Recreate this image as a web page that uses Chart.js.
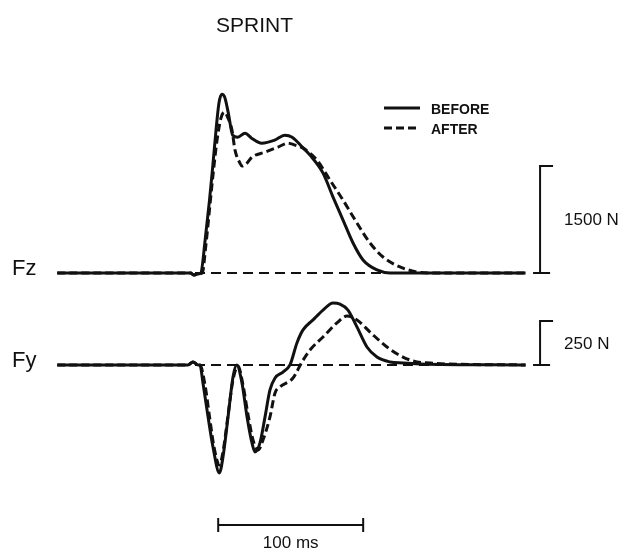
<!DOCTYPE html>
<html>
<head>
<meta charset="utf-8">
<title>Sprint</title>
<script src="https://cdn.jsdelivr.net/npm/chart.js@4"></script>
<style>
    html, body { margin: 0; padding: 0; background: #fff; }
    #wrap { width: 623px; height: 550px; position: relative; }
</style>
</head>
<body>
<div id="wrap"><canvas id="myChart"></canvas></div>
<script>
"use strict";

// time in ms (0 = foot contact), forces in N
const fzBeforeT = [-95, -3, -1, 2, 4, 7, 10, 12, 14.5, 16.5, 18.5, 20.5, 23, 26, 29.5, 34.5, 39, 46, 55, 62, 67, 74, 79.3, 88.3, 95.2, 102.1, 109, 115.9, 125.5, 134.5, 228];
const fzBeforeN = [0, 0, -28, -14, 0, 462, 1022, 1442, 2002, 2380, 2506, 2464, 2240, 1932, 1904, 1960, 1890, 1820, 1862, 1932, 1904, 1764, 1652, 1400, 1064, 742, 420, 182, 42, 0, 0];

const fzAfterT = [-95, -3, -1, 2, 5, 7.5, 10.3, 12.4, 15.2, 17.9, 20.2, 22.8, 25.5, 27.6, 31, 32.4, 35.2, 39.3, 48.3, 57.2, 64.1, 69, 74.5, 84.1, 93.1, 102.1, 111.7, 120.7, 129.7, 141.4, 153.1, 162.1, 228];
const fzAfterN = [0, 0, -28, -14, 0, 392, 952, 1372, 1862, 2170, 2254, 2170, 2002, 1722, 1540, 1498, 1526, 1624, 1694, 1764, 1820, 1792, 1750, 1582, 1302, 1022, 700, 420, 224, 84, 14, 0, 0];

const fyBeforeT = [-95, -4.8, -1.4, 2.1, 3.4, 5.5, 9, 12.4, 16.8, 19.3, 22.8, 26.2, 28.8, 32.4, 35.9, 39.3, 41.4, 44.8, 48.3, 51.7, 55.2, 60.7, 65.5, 70.3, 74.5, 81.4, 88.3, 95.2, 100, 105.5, 111.7, 118.6, 125.5, 134.5, 143.4, 155.2, 228];
const fyBeforeN = [0, 0, 17, 0, 0, -102, -295, -466, -613, -523, -295, -68, 0, -102, -295, -443, -494, -443, -295, -142, -74, -40, 0, 125, 199, 256, 312, 352, 346, 312, 216, 102, 45, 17, 11, 6, 0];

const fyAfterT = [-95, -4.8, -1.4, 2.1, 3.4, 6.9, 10.3, 13.1, 16.8, 19.3, 22.8, 26.2, 29.7, 33.1, 36.6, 40, 43.4, 46.9, 51.7, 55.2, 58.6, 67.6, 73.8, 79.3, 88.3, 97.9, 104.8, 111.7, 120.7, 132.4, 143.4, 153.1, 162.1, 172.4, 228];
const fyAfterN = [0, 0, 17, 0, 0, -114, -312, -466, -568, -494, -284, -85, -6, -114, -284, -426, -483, -426, -295, -159, -125, -74, 17, 85, 159, 239, 278, 256, 187, 102, 45, 17, 11, 6, 0];

const zeroT = [0, 228];
const zeroN = [0, 0];

const seriesNames = ['BEFORE', 'AFTER'];
const scaleBarsN = { fz: 1500, fy: 250 };
const timeBarMs = [16, 116];

function toPoints(t, v) {
    return t.map((x, i) => ({ x: x, y: v[i] }));
}

const font = '"Liberation Sans", Arial, sans-serif';

const trace = {
    borderColor: '#111',
    borderWidth: 3,
    pointRadius: 0,
    fill: false,
    cubicInterpolationMode: 'monotone'
};

const decorations = {
    id: 'decorations',
    afterDraw(chart) {
        const ctx = chart.ctx;
        const x = chart.scales.x;
        const yz = chart.scales.yz;
        const yy = chart.scales.yy;

        ctx.save();
        ctx.fillStyle = '#111';
        ctx.strokeStyle = '#111';
        ctx.textBaseline = 'alphabetic';

        // title and trace labels
        ctx.font = '21px ' + font;
        ctx.textAlign = 'left';
        ctx.fillText('SPRINT', 216, 32);
        ctx.font = '22px ' + font;
        ctx.fillText('Fz', 12, yz.getPixelForValue(0) + 2);
        ctx.fillText('Fy', 12, yy.getPixelForValue(0) + 2);

        // legend
        ctx.lineWidth = 3;
        ctx.beginPath();
        ctx.moveTo(384, 108);
        ctx.lineTo(420, 108);
        ctx.stroke();
        ctx.setLineDash([8, 4]);
        ctx.beginPath();
        ctx.moveTo(384, 128);
        ctx.lineTo(420, 128);
        ctx.stroke();
        ctx.setLineDash([]);
        ctx.font = 'bold 14px ' + font;
        ctx.fillText(seriesNames[0], 431, 114);
        ctx.fillText(seriesNames[1], 431, 134);

        // force scale bars
        ctx.lineWidth = 2;
        const bx = x.getPixelForValue(238);
        [[yz, scaleBarsN.fz], [yy, scaleBarsN.fy]].forEach(([scale, n]) => {
            const top = scale.getPixelForValue(n);
            const bot = scale.getPixelForValue(0);
            ctx.beginPath();
            ctx.moveTo(bx + 13, top);
            ctx.lineTo(bx, top);
            ctx.lineTo(bx, bot);
            ctx.moveTo(bx - 7, bot);
            ctx.lineTo(bx + 10, bot);
            ctx.stroke();
            ctx.font = '17px ' + font;
            ctx.textAlign = 'left';
            ctx.textBaseline = 'middle';
            ctx.fillText(n + ' N', bx + 24, (top + bot) / 2 + 1);
        });

        // time scale bar
        const x0 = x.getPixelForValue(timeBarMs[0]);
        const x1 = x.getPixelForValue(timeBarMs[1]);
        const ty = 525;
        ctx.beginPath();
        ctx.moveTo(x0, ty);
        ctx.lineTo(x1, ty);
        ctx.moveTo(x0, ty - 7);
        ctx.lineTo(x0, ty + 7);
        ctx.moveTo(x1, ty - 7);
        ctx.lineTo(x1, ty + 7);
        ctx.stroke();
        ctx.textAlign = 'center';
        ctx.textBaseline = 'alphabetic';
        ctx.font = '17px ' + font;
        ctx.fillText((timeBarMs[1] - timeBarMs[0]) + ' ms', (x0 + x1) / 2, 548);
        ctx.restore();
    }
};

new Chart(document.getElementById('myChart'), {
    type: 'line',
    data: {
        datasets: [
            Object.assign({ label: 'Fz ' + seriesNames[0], data: toPoints(fzBeforeT, fzBeforeN), yAxisID: 'yz' }, trace),
            Object.assign({ label: 'Fy ' + seriesNames[0], data: toPoints(fyBeforeT, fyBeforeN), yAxisID: 'yy' }, trace),
            Object.assign({ label: 'Fz ' + seriesNames[1], data: toPoints(fzAfterT, fzAfterN), yAxisID: 'yz', borderDash: [8, 4] }, trace),
            Object.assign({ label: 'Fy ' + seriesNames[1], data: toPoints(fyAfterT, fyAfterN), yAxisID: 'yy', borderDash: [8, 4] }, trace),
            { label: 'Fz zero', data: toPoints(zeroT, zeroN), yAxisID: 'yz', borderColor: '#111', borderWidth: 2, borderDash: [10, 6], pointRadius: 0 },
            { label: 'Fy zero', data: toPoints(zeroT, zeroN), yAxisID: 'yy', borderColor: '#111', borderWidth: 2, borderDash: [10, 6], pointRadius: 0 }
        ]
    },
    options: {
        responsive: true,
        maintainAspectRatio: false,
        animation: false,
        layout: { padding: 0 },
        plugins: {
            legend: { display: false },
            tooltip: { enabled: false }
        },
        scales: {
            x: { type: 'linear', min: -134.5, max: 295.2, display: false },
            yz: { type: 'linear', min: -3884, max: 3827, display: false },
            yy: { type: 'linear', min: -1051, max: 2073, display: false }
        }
    },
    plugins: [decorations]
});
</script>
</body>
</html>
